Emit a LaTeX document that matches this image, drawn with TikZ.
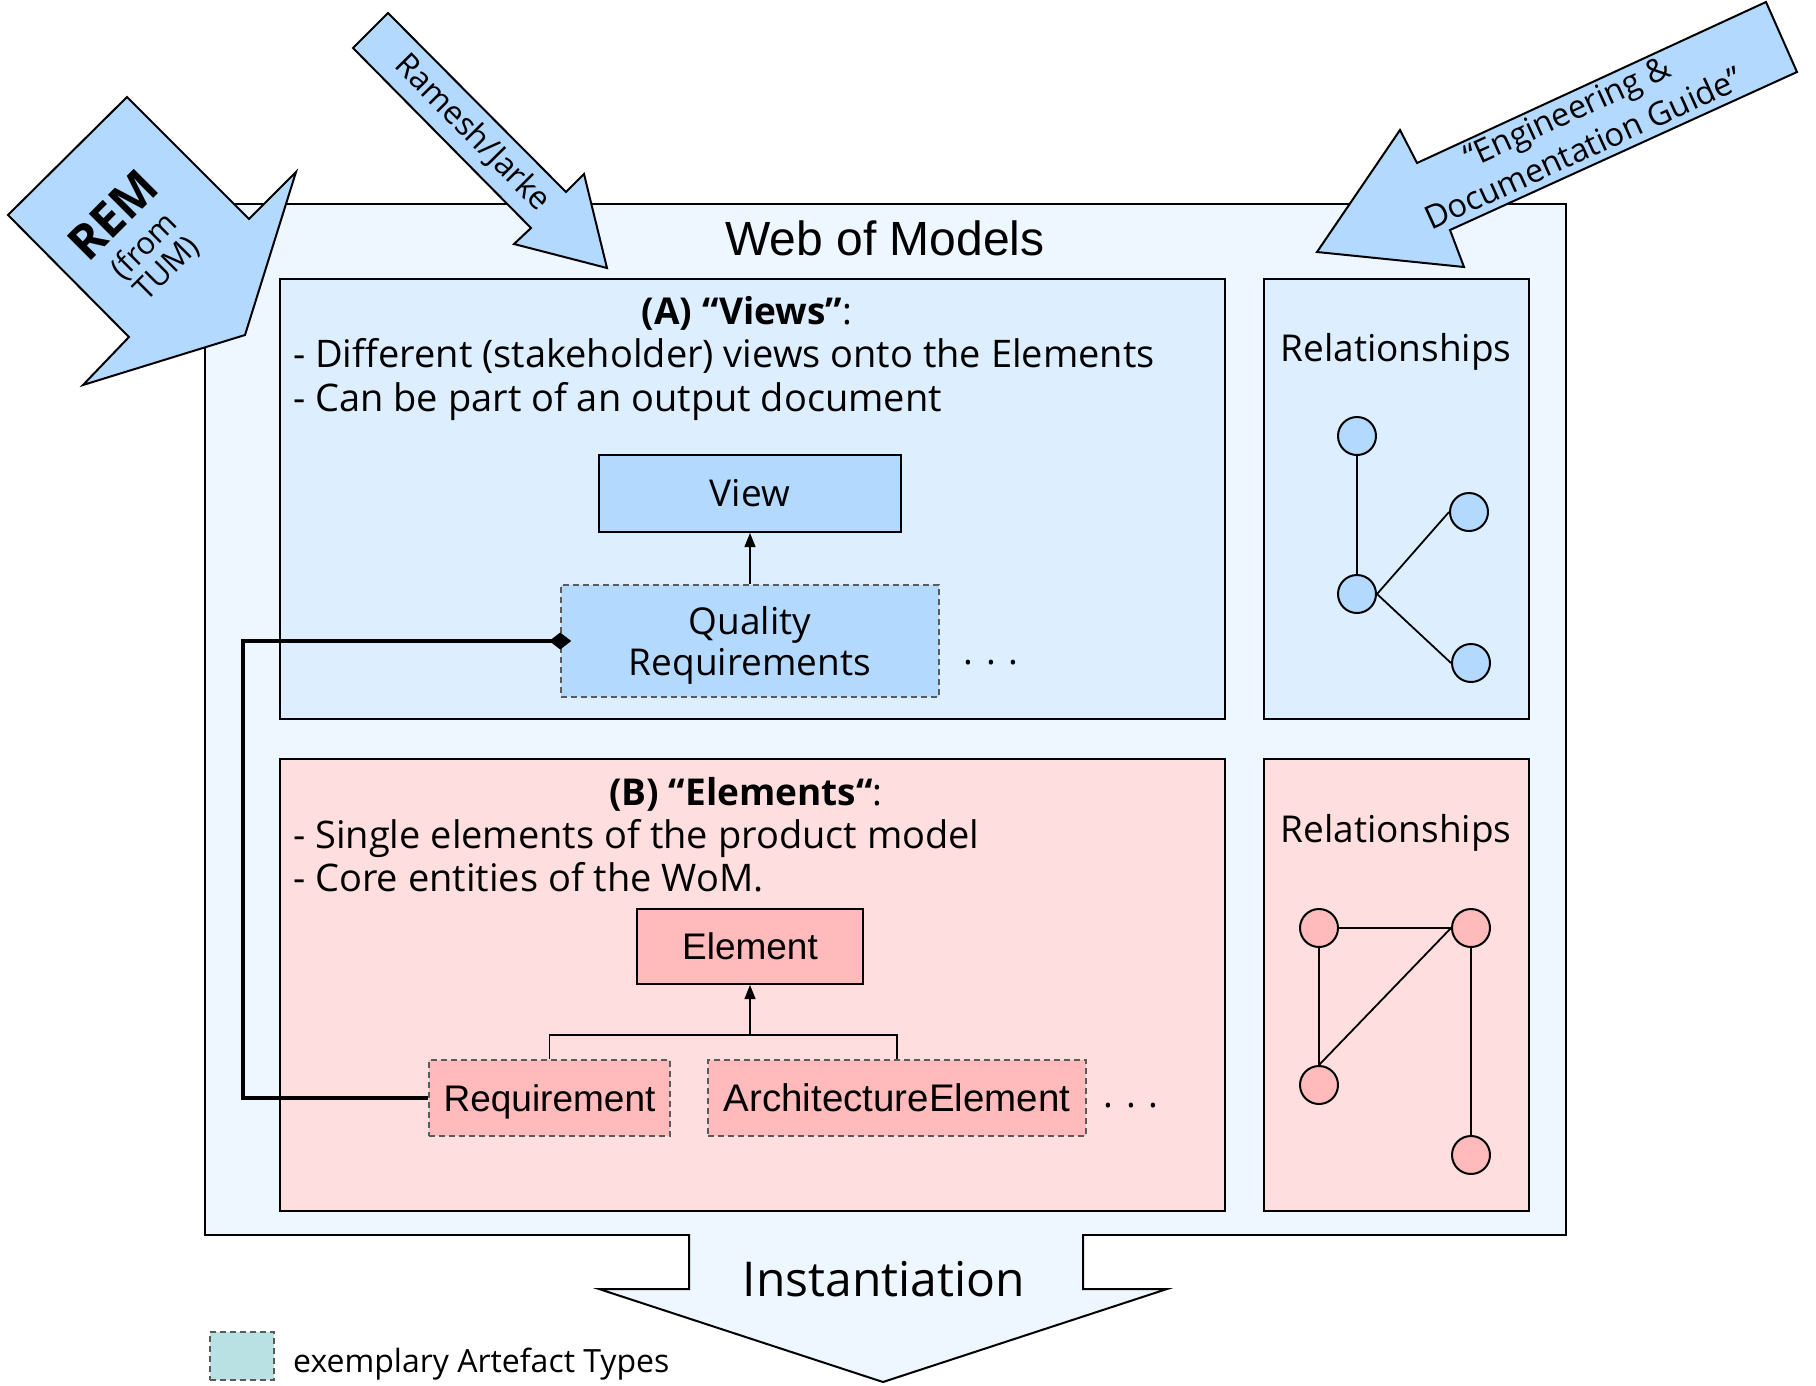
\documentclass[tikz,border=0pt]{standalone}
\usepackage{fontspec}
\setmainfont{Open Sans}
\newfontfamily\arialf{Liberation Sans}
\usetikzlibrary{arrows.meta}

\definecolor{outerfill}{HTML}{EEF6FF}
\definecolor{viewsfill}{HTML}{DDEEFF}
\definecolor{blueitem}{HTML}{B3D9FF}
\definecolor{elemfill}{HTML}{FFDEDF}
\definecolor{pinkitem}{HTML}{FFBBBB}
\definecolor{legendfill}{HTML}{B9E0E2}
\definecolor{dashgray}{HTML}{5A5A5A}

\newcommand\fsz[2]{\fontsize{#1}{#2}\selectfont}

\tikzset{
  container/.style={draw=black, line width=2pt},
  classbox/.style={draw=black, line width=2pt, inner sep=0pt,
                   text height=26.5pt, text depth=0pt},
  typebox/.style={draw=dashgray, dash pattern=on 6pt off 4pt, line width=1.6pt,
                  inner sep=0pt},
  relnode/.style={circle, draw=black, line width=2pt, minimum size=38pt, inner sep=0pt},
  feed/.style={draw=black, line width=2pt, fill=blueitem, line join=miter},
  txt/.style={inner sep=0pt, anchor=base},
  body/.style={font=\fsz{37}{44}},
  listtxt/.style={inner sep=0pt, anchor=base west, font=\fsz{38}{44}},
  genline/.style={draw=black, line width=1.3pt, -{Triangle[length=14pt,width=11pt]}},
  treeline/.style={draw=black, line width=1.3pt},
  relline/.style={draw=black, line width=1.8pt},
}

\begin{document}
\begin{tikzpicture}[x=1pt, y=-1pt]
\useasboundingbox (0,0) rectangle (1816,1385);

% Web of Models frame
\draw[container, fill=outerfill] (205,204) rectangle (1566,1235);
\node[txt, font=\arialf\fsz{48}{56}] (womtitle) at (885,255) {Web of Models};

% Instantiation arrow below the frame
\fill[outerfill] (689,1232) -- (689,1289) -- (599,1289) -- (883,1382)
  -- (1167,1289) -- (1083,1289) -- (1083,1232) -- cycle;
\draw[line width=2pt, line join=miter] (689,1234) -- (689,1289) -- (599,1289)
  -- (883,1382) -- (1167,1289) -- (1083,1289) -- (1083,1234);
\node[txt, font=\fsz{48}{54}] (inst) at (884,1296) {Instantiation};

% (A) Views
\draw[container, fill=viewsfill] (280,279) rectangle (1225,719);
\node[txt, body] (atitle) at (747,324) {\textbf{(A) “Views”}:};
\node[listtxt] (aline1) at (293,367) {- Different (stakeholder) views onto the Elements};
\node[listtxt] (aline2) at (293,411) {- Can be part of an output document};

\node[classbox, fill=blueitem, minimum width=302pt, minimum height=77pt, body] (view) at (750,493.5) {View};
\node[typebox, fill=blueitem, minimum width=378pt, minimum height=112pt] (qr) at (750,641) {};
\node[txt, body] (qr1) at (750,634) {Quality};
\node[txt, body] (qr2) at (750,675) {Requirements};
\node[txt, body] (amore) at (991,664) {.\,\,.\,\,.};
\draw[genline] (qr.north) -- (view.south);

% Relationships among views
\draw[container, fill=viewsfill] (1264,279) rectangle (1529,719);
\node[txt, body] (arel) at (1396,361) {Relationships};
\node[relnode, fill=blueitem] (va) at (1357,436) {};
\node[relnode, fill=blueitem] (vb) at (1469,512) {};
\node[relnode, fill=blueitem] (vc) at (1357,594) {};
\node[relnode, fill=blueitem] (vd) at (1471,663) {};
\draw[relline] (va.south) -- (vc.north);
\draw[relline] (vc.east) -- (vb.west);
\draw[relline] (vc.east) -- (vd.west);

% (B) Elements
\draw[container, fill=elemfill] (280,759) rectangle (1225,1211);
\node[txt, body] (btitle) at (746,805) {\textbf{(B) “Elements“}:};
\node[listtxt] (bline1) at (293,848) {- Single elements of the product model};
\node[listtxt] (bline2) at (293,891) {- Core entities of the WoM.};

\node[classbox, fill=pinkitem, minimum width=226pt, minimum height=75pt, font=\arialf\fsz{37}{44}] (elem) at (750,946.5) {Element};
\node[typebox, fill=pinkitem, minimum width=241pt, minimum height=76pt,
      text height=26.5pt, text depth=0pt, font=\arialf\fsz{37}{44}] (req) at (549.5,1098) {Requirement};
\node[typebox, fill=pinkitem, minimum width=378pt, minimum height=76pt,
      text height=27pt, text depth=0pt, font=\arialf\fsz{38.5}{44}] (arch) at (897,1098) {ArchitectureElement};
\node[txt, body] (bmore) at (1131,1107) {.\,\,.\,\,.};
\coordinate (fork) at (750,1035);
\draw[treeline] (req.north) |- (fork) -| (arch.north);
\draw[genline] (fork) -- (elem.south);

% Relationships among elements
\draw[container, fill=elemfill] (1264,759) rectangle (1529,1211);
\node[txt, body] (brel) at (1396,842) {Relationships};
\node[relnode, fill=pinkitem] (ea) at (1319,928) {};
\node[relnode, fill=pinkitem] (eb) at (1471,928) {};
\node[relnode, fill=pinkitem] (ec) at (1319,1085) {};
\node[relnode, fill=pinkitem] (ed) at (1471,1155) {};
\draw[relline] (ea.east) -- (eb.west);
\draw[relline] (ea.south) -- (ec.north);
\draw[relline] (ec.north) -- (eb.west);
\draw[relline] (eb.south) -- (ed.north);

% Requirement refines quality requirements (composition)
\draw[line width=3.5pt, line join=miter, -{Diamond[length=22pt,width=17pt]}]
  (req.west) -- ++(-185,0) |- ([xshift=11pt]qr.west);

% Sources feeding the Web of Models
\draw[feed] (8,215) -- (127,97) -- (249,219) -- (296,172) -- (245,335)
  -- (83,385) -- (129,337) -- cycle;
\node[inner sep=0pt, rotate=45, align=center, font=\fsz{31}{32}] (rem) at (139,241)
  {{\bfseries\fsz{48}{48}REM}\\[5pt](from\\TUM)};

\draw[feed] (353,48) -- (388,13) -- (566,192) -- (584,174) -- (607,268)
  -- (514,244) -- (531,228) -- cycle;
\node[inner sep=0pt, rotate=-45.3, font=\fsz{32}{36}] (rj) at (472,133) {Ramesh/Jarke};

\draw[feed] (1766,2) -- (1797,72) -- (1450,230) -- (1464,267) -- (1317,252)
  -- (1400,130) -- (1417,163) -- cycle;
\node[inner sep=0pt, rotate=24.6, align=center, font=\fsz{32.5}{40}] (edg) at (1575,130)
  {“Engineering \&\\Documentation Guide”};

% Legend
\node[typebox, fill=legendfill, minimum width=64pt, minimum height=48pt] (legbox) at (242,1356) {};
\node[txt, anchor=base west, font=\fsz{32}{38}] (legtxt) at (293,1372) {exemplary Artefact Types};
\end{tikzpicture}
\end{document}
